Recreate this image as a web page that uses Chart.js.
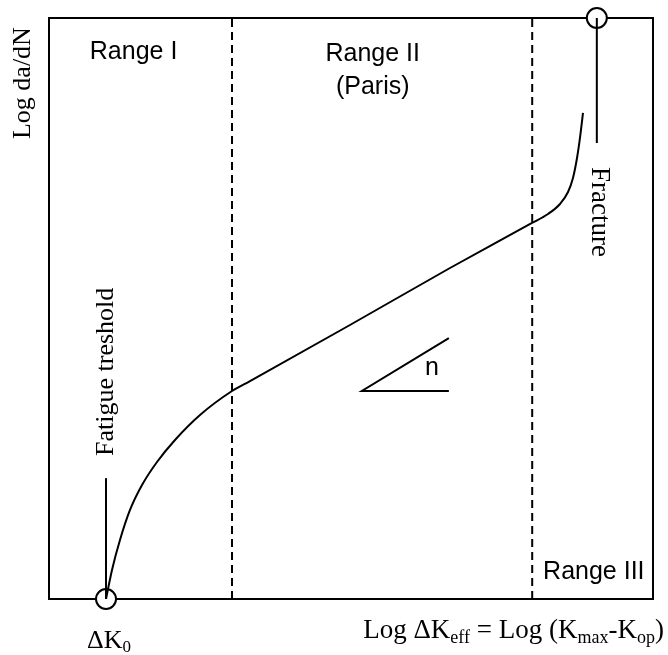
<!DOCTYPE html>
<html>
<head>
<meta charset="utf-8">
<script src="https://cdn.jsdelivr.net/npm/chart.js@4.4.1/dist/chart.umd.min.js"></script>
<style>
  html, body { margin: 0; padding: 0; background: #fff; }
  #wrap { width: 668px; height: 655px; }
</style>
</head>
<body>
<div id="wrap"><canvas id="crack"></canvas></div>
<script>
/* crack growth curve (both axes 0..100, arbitrary log units) */
const curveX = [9.44, 10.43, 11.75, 13.41, 15.40, 17.88, 20.86, 25.00, 30.30, 33.28, 49.83, 66.39, 79.97, 82.62, 84.60, 85.93, 86.75, 87.42, 87.91, 88.41];
const curveY = [0, 4.99, 10.15, 15.32, 19.62, 23.58, 27.37, 31.67, 35.80, 37.52, 47.16, 56.97, 64.72, 66.27, 67.99, 70.05, 72.46, 75.90, 79.35, 83.65];
const rangeBounds = [30.3, 80.0];
const thresholdX = 9.44;
const thresholdTop = 20.8;
const fractureX = 90.7;
const fractureBottom = 78.5;
const slopeX = [66.2, 51.8, 66.2];
const slopeY = [35.8, 35.8, 44.9];

const SANS = '"Liberation Sans", Arial, sans-serif';
const SERIF = '"Liberation Serif", "Times New Roman", serif';

const pts = (xs, ys) => xs.map((v, i) => ({ x: v, y: ys[i] }));
const lineStyle = { borderColor: '#000', borderWidth: 2, pointRadius: 0, showLine: true, fill: false };

const datasets = [
    Object.assign({ data: pts(curveX, curveY), cubicInterpolationMode: 'monotone' }, lineStyle),
    Object.assign({ data: pts([rangeBounds[0], rangeBounds[0]], [0, 100]), borderDash: [8, 5] }, lineStyle),
    Object.assign({ data: pts([rangeBounds[1], rangeBounds[1]], [0, 100]), borderDash: [8, 5] }, lineStyle),
    Object.assign({ data: pts([thresholdX, thresholdX], [0, thresholdTop]) }, lineStyle),
    Object.assign({ data: pts([fractureX, fractureX], [100, fractureBottom]) }, lineStyle),
    Object.assign({ data: pts(slopeX, slopeY) }, lineStyle),
    {
        data: [{ x: thresholdX, y: 0 }, { x: fractureX, y: 100 }],
        showLine: false,
        pointRadius: 10,
        pointBackgroundColor: '#fff',
        pointBorderColor: '#000',
        pointBorderWidth: 2,
        clip: false
    }
];

// text pieces: [text, subscript?]
function drawParts(ctx, parts, x, y, size, font, align) {
    const subSize = Math.round(size * 0.65);
    let total = 0;
    parts.forEach(p => {
        ctx.font = (p[1] ? subSize : size) + 'px ' + font;
        total += ctx.measureText(p[0]).width;
    });
    let cx = align === 'right' ? x - total : x;
    ctx.textAlign = 'left';
    parts.forEach(p => {
        ctx.font = (p[1] ? subSize : size) + 'px ' + font;
        ctx.fillText(p[0], cx, p[1] ? y + size * 0.18 : y);
        cx += ctx.measureText(p[0]).width;
    });
}

function rotatedText(ctx, text, px, py, angle) {
    ctx.save();
    ctx.translate(px, py);
    ctx.rotate(angle);
    ctx.textAlign = 'center';
    ctx.textBaseline = 'middle';
    ctx.fillText(text, 0, 0);
    ctx.restore();
}

const frame = {
    id: 'frame',
    beforeDatasetsDraw(chart) {
        const { ctx, chartArea: a } = chart;
        ctx.save();
        ctx.strokeStyle = '#000';
        ctx.lineWidth = 2;
        ctx.strokeRect(a.left, a.top, a.width, a.height);
        ctx.restore();
    },
    afterDatasetsDraw(chart) {
        const { ctx, scales: { x, y } } = chart;
        ctx.save();
        ctx.fillStyle = '#000';
        ctx.textBaseline = 'alphabetic';

        ctx.font = '25px ' + SANS;
        ctx.textAlign = 'center';
        ctx.fillText('Range I', x.getPixelForValue(14.0), y.getPixelForValue(93.0));
        ctx.fillText('Range II', x.getPixelForValue(53.6), y.getPixelForValue(92.6));
        ctx.fillText('(Paris)', x.getPixelForValue(53.6), y.getPixelForValue(86.9));
        ctx.fillText('n', x.getPixelForValue(63.4), y.getPixelForValue(38.6));
        ctx.textAlign = 'left';
        ctx.fillText('Range III', x.getPixelForValue(81.8), y.getPixelForValue(3.4));

        ctx.font = '26px ' + SERIF;
        rotatedText(ctx, 'Log da/dN', x.getPixelForValue(-4.3), y.getPixelForValue(88.8), -Math.PI / 2);
        rotatedText(ctx, 'Fatigue treshold', x.getPixelForValue(thresholdX), y.getPixelForValue(39.1), -Math.PI / 2);
        ctx.font = '27px ' + SERIF;
        rotatedText(ctx, 'Fracture', x.getPixelForValue(fractureX + 0.3), y.getPixelForValue(66.6), Math.PI / 2);

        drawParts(ctx, [['ΔK', false], ['0', true]], x.getPixelForValue(6.3), y.getPixelForValue(-8.4), 26, SERIF, 'left');
        drawParts(ctx, [['Log ΔK', false], ['eff', true], [' = Log (K', false], ['max', true], ['-K', false], ['op', true], [')', false]],
            x.getPixelForValue(101.8), y.getPixelForValue(-6.7), 27, SERIF, 'right');
        ctx.restore();
    }
};

new Chart(document.getElementById('crack'), {
    type: 'scatter',
    data: { datasets: datasets },
    options: {
        responsive: true,
        maintainAspectRatio: false,
        animation: false,
        events: [],
        layout: { padding: { left: 49, top: 18, right: 15, bottom: 56 } },
        plugins: { legend: { display: false }, tooltip: { enabled: false } },
        scales: {
            x: {
                type: 'linear', min: 0, max: 100,
                ticks: { display: false },
                grid: { display: false, drawTicks: false },
                border: { display: false }
            },
            y: {
                type: 'linear', min: 0, max: 100,
                ticks: { display: false },
                grid: { display: false, drawTicks: false },
                border: { display: false }
            }
        }
    },
    plugins: [frame]
});
</script>
</body>
</html>
